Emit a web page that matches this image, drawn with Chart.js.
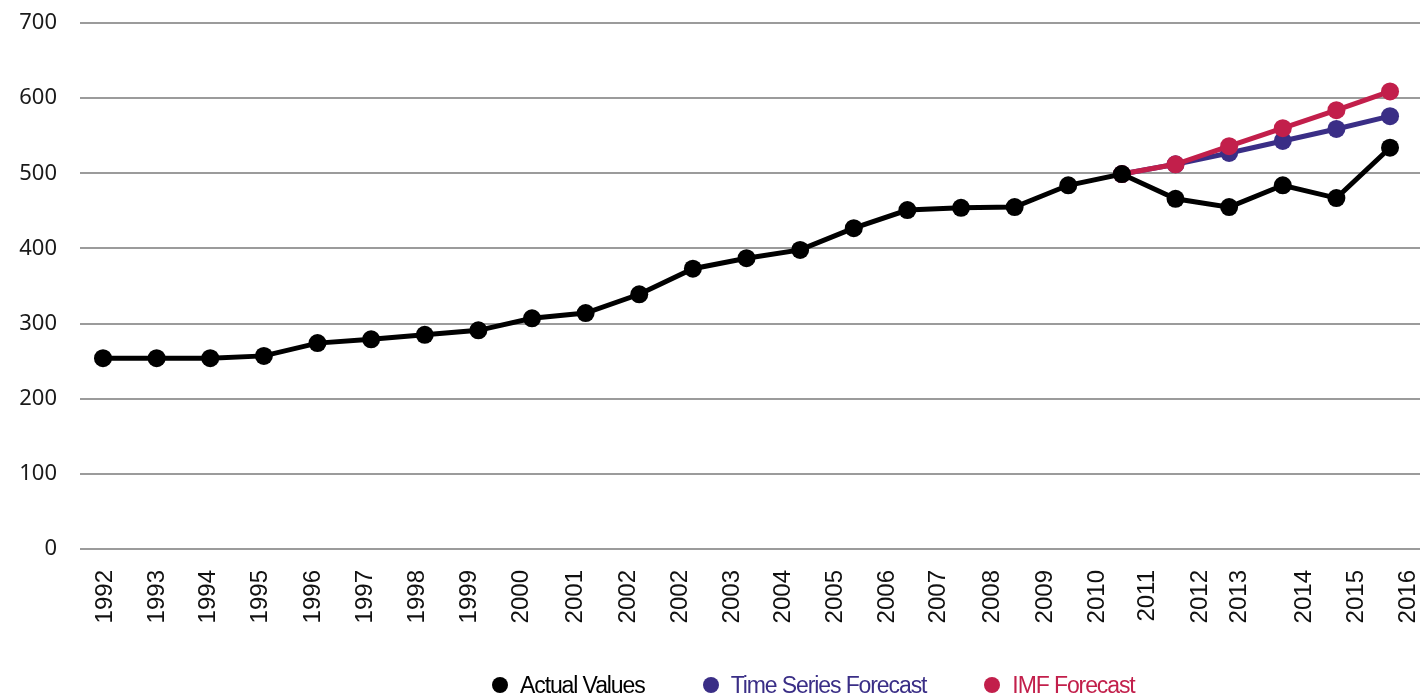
<!DOCTYPE html>
<html>
<head>
<meta charset="utf-8">
<script src="https://cdn.jsdelivr.net/npm/chart.js@4"></script>
<style>
  body { margin: 0; background: #fff; }
  #wrap { position: relative; width: 1420px; height: 698px; }
  #legend { position: absolute; left: 492px; top: 671px; display: flex; align-items: center;
            font-family: 'Liberation Sans', Arial, sans-serif; font-size: 23px; line-height: 28px; letter-spacing: -1.1px; }
  #legend .item { display: flex; align-items: center; margin-right: 58px; }
  #legend .dot { width: 16px; height: 16px; border-radius: 50%; margin-right: 12px; }
</style>
</head>
<body>
<div id="wrap">
  <canvas id="chart" width="1420" height="698"></canvas>
  <div id="legend"></div>
</div>
<script>
// years of the data points
var years = [1992, 1993, 1994, 1995, 1996, 1997, 1998, 1999, 2000, 2001, 2002, 2003, 2004,
             2005, 2006, 2007, 2008, 2009, 2010, 2011, 2012, 2013, 2014, 2015, 2016];

var actualValues = [254, 254, 254, 257, 274, 279, 285, 291, 307, 314, 339, 373, 387,
                    398, 427, 451, 454, 455, 484, 499, 466, 455, 484, 467, 534];

var timeSeriesForecast = [null, null, null, null, null, null, null, null, null, null, null, null, null,
                          null, null, null, null, null, null, 499, 512, 527, 543, 559, 576];

var imfForecast = [null, null, null, null, null, null, null, null, null, null, null, null, null,
                   null, null, null, null, null, null, 499, 512, 536, 560, 584, 609];

// the axis labels as printed (note the doubled 2002) and where they sit on the year scale
var tickLabels = ['1992', '1993', '1994', '1995', '1996', '1997', '1998', '1999', '2000', '2001', '2002', '2002', '2003',
                  '2004', '2005', '2006', '2007', '2008', '2009', '2010', '2011', '2012', '2013', '2014', '2015', '2016'];
var tickAt = [1992.04, 1993.01, 1993.96, 1994.93, 1995.92, 1996.89, 1997.87, 1998.84, 1999.81, 2000.80, 2001.79, 2002.76, 2003.73,
              2004.68, 2005.65, 2006.62, 2007.57, 2008.58, 2009.57, 2010.54, 2011.47, 2012.46, 2013.20, 2014.41, 2015.38, 2016.34];

var BLACK = '#000000';
var PURPLE = '#3a2e86';
var RED = '#c21f4b';

function series(label, data, color, order) {
    return {
        label: label,
        data: data,
        borderColor: color,
        backgroundColor: color,
        pointBackgroundColor: color,
        pointBorderWidth: 0,
        pointRadius: 9,
        borderWidth: 5,
        tension: 0,
        order: order
    };
}

// builds a legend under the canvas from the datasets
var htmlLegend = {
    id: 'htmlLegend',
    afterUpdate: function(chart) {
        var box = document.getElementById('legend');
        box.innerHTML = '';
        chart.data.datasets.forEach(function(ds) {
            var item = document.createElement('div');
            item.className = 'item';
            var dot = document.createElement('span');
            dot.className = 'dot';
            dot.style.background = ds.borderColor;
            var txt = document.createElement('span');
            txt.textContent = ds.label;
            txt.style.color = ds.borderColor;
            item.appendChild(dot);
            item.appendChild(txt);
            box.appendChild(item);
        });
    }
};

var ctx = document.getElementById('chart').getContext('2d');
var chart = new Chart(ctx, {
    type: 'line',
    data: {
        labels: years,
        datasets: [
            series('Actual Values', actualValues, BLACK, 0),
            series('Time Series Forecast', timeSeriesForecast, PURPLE, 2),
            series('IMF Forecast', imfForecast, RED, 1)
        ]
    },
    plugins: [htmlLegend],
    options: {
        responsive: false,
        animation: false,
        layout: { autoPadding: false, padding: { top: 23, right: 0, bottom: 0, left: 0 } },
        plugins: {
            legend: { display: false },
            tooltip: { enabled: false }
        },
        scales: {
            x: {
                type: 'linear',
                min: 1991.571,
                max: 2016.559,
                grid: { display: false, drawTicks: false },
                border: { display: false },
                afterBuildTicks: function(axis) {
                    axis.ticks = tickAt.map(function(v) { return { value: v }; });
                },
                afterFit: function(scale) {
                    scale.height = 149;
                    scale.paddingLeft = 0;
                    scale.paddingRight = 0;
                },
                ticks: {
                    autoSkip: false,
                    minRotation: 90,
                    maxRotation: 90,
                    padding: 21,
                    color: '#111',
                    font: { family: "'Liberation Sans', Arial, sans-serif", size: 24 },
                    callback: function(value, index) { return tickLabels[index]; }
                }
            },
            y: {
                min: 0,
                max: 700,
                grid: { color: '#9b9b9b', lineWidth: 2, drawTicks: false },
                border: { display: false },
                afterFit: function(scale) {
                    scale.width = 80;
                    scale.paddingTop = 0;
                    scale.paddingBottom = 0;
                },
                ticks: {
                    stepSize: 100,
                    padding: 23,
                    color: '#1a1a1a',
                    font: { family: "'Noto Sans', sans-serif", size: 22 }
                }
            }
        }
    }
});
</script>
</body>
</html>
